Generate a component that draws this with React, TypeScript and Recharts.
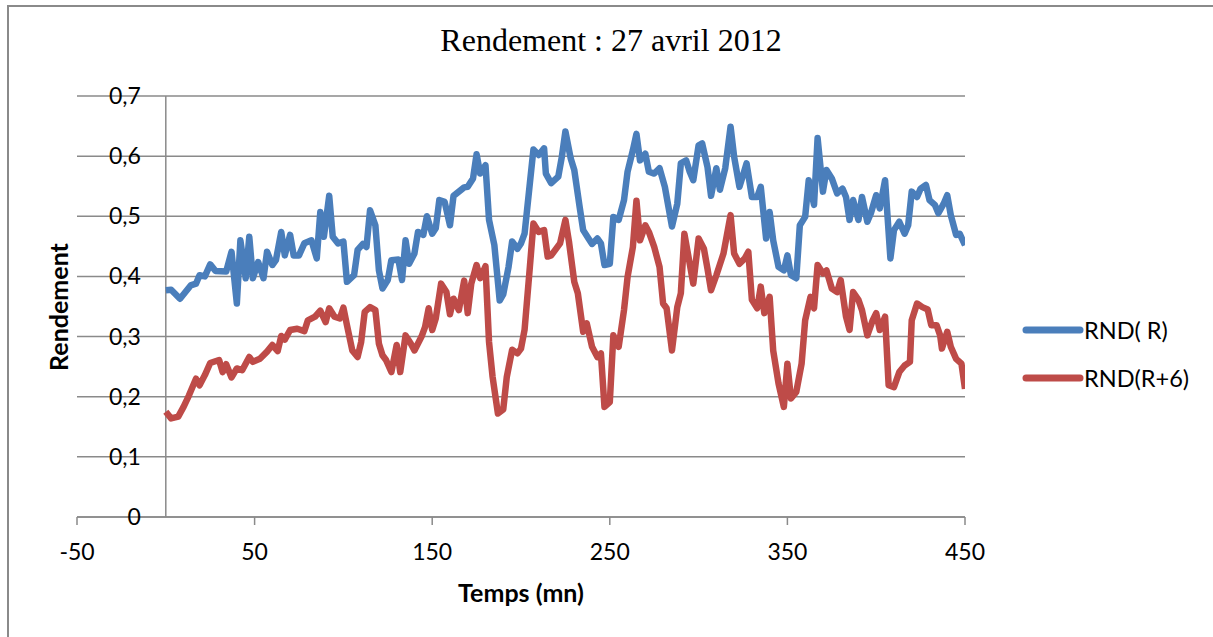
import React from "react";
import {
  LineChart,
  Line,
  XAxis,
  YAxis,
  CartesianGrid,
  ReferenceLine,
} from "recharts";

// minutes and yield, series by series
const blueTimes = [
  0, 3, 8, 14, 17, 19, 22, 25, 28, 34, 37, 40, 42, 45, 47, 49, 52, 55, 57, 60,
  62, 65, 67, 70, 72, 75, 78, 82, 85, 87, 89, 92, 94, 97, 100, 102, 106, 108,
  111, 113, 115, 118, 120, 122, 125, 127, 131, 133, 135, 137, 140, 142, 145,
  147, 150, 152, 154, 157, 160, 162, 165, 168, 170, 173, 175, 177, 180, 182,
  185, 188, 190, 193, 195, 198, 200, 202, 205, 207, 210, 213, 214, 217, 221,
  223, 225, 228, 230, 233, 235, 238, 240, 243, 245, 247, 250, 252, 255, 258,
  260, 263, 265, 267, 270, 272, 275, 278, 281, 285, 288, 290, 293, 295, 297,
  300, 302, 305, 307, 310, 312, 315, 318, 320, 323, 325, 327, 330, 333, 335,
  338, 340, 342, 345, 348, 350, 352, 355, 357, 360, 362, 365, 367, 370, 372,
  375, 378, 381, 383, 385, 387, 390, 392, 395, 397, 400, 402, 405, 408, 410,
  413, 416, 418, 420, 423, 425, 428, 430, 433, 435, 438, 440, 442, 445, 447,
  450,
];
const blueValues = [
  0.377, 0.378, 0.363, 0.385, 0.388, 0.402, 0.4, 0.42, 0.409, 0.408, 0.441,
  0.355, 0.46, 0.397, 0.466, 0.397, 0.424, 0.397, 0.441, 0.419, 0.427, 0.474,
  0.435, 0.469, 0.435, 0.435, 0.455, 0.46, 0.43, 0.507, 0.466, 0.534, 0.466,
  0.455, 0.458, 0.391, 0.402, 0.444, 0.454, 0.449, 0.51, 0.485, 0.41, 0.38,
  0.394, 0.427, 0.428, 0.394, 0.46, 0.421, 0.438, 0.474, 0.469, 0.5, 0.471,
  0.48, 0.527, 0.524, 0.485, 0.534, 0.541, 0.548, 0.549, 0.563, 0.603, 0.571,
  0.585, 0.494, 0.452, 0.36, 0.37, 0.416, 0.458, 0.446, 0.455, 0.471, 0.555,
  0.611, 0.602, 0.613, 0.571, 0.555, 0.566, 0.599, 0.641, 0.596, 0.577, 0.516,
  0.477, 0.463, 0.454, 0.463, 0.455, 0.419, 0.421, 0.499, 0.494, 0.527, 0.574,
  0.61, 0.637, 0.593, 0.604, 0.574, 0.571, 0.58, 0.549, 0.483, 0.521, 0.588,
  0.593, 0.574, 0.56, 0.618, 0.621, 0.582, 0.534, 0.58, 0.544, 0.58, 0.649,
  0.599, 0.549, 0.568, 0.588, 0.532, 0.532, 0.549, 0.463, 0.507, 0.46, 0.416,
  0.41, 0.435, 0.402, 0.397, 0.485, 0.499, 0.56, 0.519, 0.63, 0.541, 0.577,
  0.563, 0.538, 0.546, 0.532, 0.494, 0.527, 0.494, 0.532, 0.491, 0.505, 0.535,
  0.513, 0.56, 0.43, 0.477, 0.491, 0.471, 0.485, 0.541, 0.532, 0.546, 0.552,
  0.527, 0.519, 0.505, 0.521, 0.535, 0.502, 0.469, 0.471, 0.452,
];

const redTimes = [
  0, 3, 7, 10, 13, 17, 19, 22, 25, 30, 32, 34, 37, 40, 43, 47, 49, 53, 57, 60,
  63, 65, 67, 70, 74, 78, 80, 84, 87, 90, 92, 95, 98, 100, 102, 105, 108, 110,
  112, 115, 118, 120, 122, 124, 127, 130, 132, 135, 138, 140, 144, 146, 148,
  150, 152, 155, 158, 160, 162, 165, 168, 170, 172, 175, 177, 180, 182, 184,
  187, 190, 192, 195, 198, 200, 202, 205, 207, 210, 213, 215, 217, 222, 225,
  227, 230, 232, 235, 237, 240, 243, 245, 247, 250, 252, 255, 258, 260, 263,
  265, 267, 270, 272, 275, 278, 280, 282, 285, 288, 290, 292, 295, 297, 300,
  303, 305, 307, 310, 314, 318, 320, 323, 326, 328, 330, 333, 335, 337, 340,
  342, 345, 348, 350, 352, 355, 358, 360, 363, 365, 367, 370, 372, 375, 378,
  380, 383, 385, 387, 390, 392, 395, 398, 400, 402, 405, 407, 410, 413, 416,
  419, 420, 423, 426, 429, 431, 434, 436, 437, 440, 442, 445, 448, 450,
];
const redValues = [
  0.175, 0.164, 0.167, 0.183, 0.202, 0.23, 0.219, 0.236, 0.256, 0.261, 0.241,
  0.254, 0.232, 0.247, 0.244, 0.266, 0.258, 0.263, 0.275, 0.286, 0.276, 0.301,
  0.295, 0.311, 0.313, 0.309, 0.327, 0.333, 0.343, 0.324, 0.347, 0.333, 0.33,
  0.348, 0.319, 0.277, 0.266, 0.291, 0.341, 0.349, 0.344, 0.288, 0.269, 0.261,
  0.241, 0.286, 0.241, 0.302, 0.288, 0.277, 0.3, 0.316, 0.347, 0.311, 0.33,
  0.388, 0.374, 0.337, 0.363, 0.344, 0.393, 0.339, 0.388, 0.419, 0.397, 0.417,
  0.291, 0.233, 0.172, 0.179, 0.233, 0.278, 0.272, 0.28, 0.311, 0.416, 0.488,
  0.474, 0.477, 0.433, 0.435, 0.455, 0.494, 0.458, 0.391, 0.372, 0.308, 0.322,
  0.283, 0.266, 0.272, 0.183, 0.191, 0.302, 0.283, 0.344, 0.399, 0.449, 0.526,
  0.46, 0.485, 0.474, 0.449, 0.416, 0.355, 0.347, 0.277, 0.349, 0.372, 0.471,
  0.421, 0.388, 0.463, 0.446, 0.413, 0.377, 0.402, 0.438, 0.502, 0.438, 0.421,
  0.43, 0.441, 0.361, 0.347, 0.383, 0.339, 0.366, 0.277, 0.222, 0.183, 0.255,
  0.197, 0.208, 0.255, 0.327, 0.366, 0.347, 0.419, 0.405, 0.41, 0.38, 0.374,
  0.394, 0.333, 0.311, 0.374, 0.361, 0.344, 0.302, 0.327, 0.339, 0.311, 0.333,
  0.219, 0.216, 0.241, 0.252, 0.258, 0.327, 0.355, 0.349, 0.345, 0.319, 0.319,
  0.302, 0.28, 0.308, 0.283, 0.263, 0.255, 0.213,
];

const xTicks = [-50, 50, 150, 250, 350, 450];
const yTicks = [0, 0.1, 0.2, 0.3, 0.4, 0.5, 0.6, 0.7];
const seriesNames = ["RND( R)", "RND(R+6)"];
const seriesColors = ["#4a7ebb", "#be4b48"];

const blueData = blueTimes.map((t, i) => ({ t, v: blueValues[i] }));
const redData = redTimes.map((t, i) => ({ t, v: redValues[i] }));

const W = 1213;
const H = 637;
// plot box: left 77, right 965, top 96, bottom 517
const margin = { top: 96, right: 248, bottom: 80, left: 76 };
const xAxisH = 40;
const yAxisW = 1;
const xMin = -50;
const xMax = 450;
// the value axis crosses at t = 0, not at the left edge of the plot
const plotLeft = margin.left + yAxisW;
const plotW = W - plotLeft - margin.right;
const yAxisX = plotLeft + ((0 - xMin) / (xMax - xMin)) * plotW;

const font = "Lato, 'Open Sans', sans-serif";
const grey = "#8a8a8a";

function fmt(v: number) {
  if (v === 0) return "0";
  return v.toFixed(1).replace(".", ",");
}

function YTick(props: any) {
  const { y, payload } = props;
  return (
    <text
      x={yAxisX - 25}
      y={y}
      dy={8}
      textAnchor="end"
      fontFamily={font}
      fontSize={23}
      fill="#000"
    >
      {fmt(payload.value)}
    </text>
  );
}

function LegendBox() {
  return (
    <div
      style={{
        position: "absolute",
        left: 1020,
        top: 306,
        fontFamily: font,
        fontSize: 23.5,
        color: "#000",
      }}
    >
      {seriesNames.map((name, i) => (
        <div
          key={name}
          style={{ display: "flex", alignItems: "center", height: 48 }}
        >
          <svg width={64} height={10}>
            <line
              x1={6}
              y1={5}
              x2={60}
              y2={5}
              stroke={seriesColors[i]}
              strokeWidth={7}
              strokeLinecap="round"
            />
          </svg>
          <span>{name}</span>
        </div>
      ))}
    </div>
  );
}

export default function App() {
  return (
    <div
      style={{
        position: "absolute",
        left: 0,
        top: 0,
        width: W,
        height: H,
        background: "#fff",
        overflow: "hidden",
      }}
    >
      <div
        style={{
          position: "absolute",
          left: 7,
          top: 5,
          width: W,
          height: H,
          borderLeft: "2px solid #8a8a8a",
          borderTop: "2px solid #8a8a8a",
        }}
      />
      <div
        style={{
          position: "absolute",
          left: 0,
          top: 22,
          width: 1222,
          textAlign: "center",
          fontFamily: "'Liberation Serif', 'Times New Roman', serif",
          fontSize: 32,
          color: "#000",
        }}
      >
        Rendement : 27 avril 2012
      </div>
      <div
        style={{
          position: "absolute",
          left: 58,
          top: 307,
          transform: "translate(-50%, -50%) rotate(-90deg)",
          fontFamily: font,
          fontWeight: 700,
          fontSize: 25,
          whiteSpace: "nowrap",
        }}
      >
        Rendement
      </div>
      <div
        style={{
          position: "absolute",
          left: 521,
          top: 592,
          transform: "translate(-50%, -50%)",
          fontFamily: font,
          fontWeight: 700,
          fontSize: 25,
          whiteSpace: "nowrap",
        }}
      >
        Temps (mn)
      </div>
      <div style={{ position: "absolute", left: 0, top: 0 }}>
        <LineChart width={W} height={H} margin={margin}>
          <CartesianGrid
            vertical={false}
            stroke={grey}
            strokeWidth={1.5}
            horizontalValues={yTicks}
          />
          <XAxis
            type="number"
            dataKey="t"
            domain={[xMin, xMax]}
            ticks={xTicks}
            interval={0}
            allowDataOverflow
            height={xAxisH}
            stroke={grey}
            strokeWidth={1.5}
            tickSize={8}
            tickMargin={19}
            tick={{ fontFamily: font, fontSize: 23, fill: "#000" }}
          />
          <YAxis
            type="number"
            domain={[0, 0.7]}
            ticks={yTicks}
            interval={0}
            width={yAxisW}
            axisLine={false}
            tickLine={false}
            tick={<YTick />}
            allowDataOverflow
          />
          <ReferenceLine x={0} stroke={grey} strokeWidth={1.5} />
          <Line
            data={blueData}
            dataKey="v"
            name={seriesNames[0]}
            type="linear"
            stroke={seriesColors[0]}
            strokeWidth={6.5}
            strokeLinejoin="round"
            dot={false}
            activeDot={false}
            isAnimationActive={false}
          />
          <Line
            data={redData}
            dataKey="v"
            name={seriesNames[1]}
            type="linear"
            stroke={seriesColors[1]}
            strokeWidth={6.5}
            strokeLinejoin="round"
            dot={false}
            activeDot={false}
            isAnimationActive={false}
          />
        </LineChart>
      </div>
      <LegendBox />
    </div>
  );
}
